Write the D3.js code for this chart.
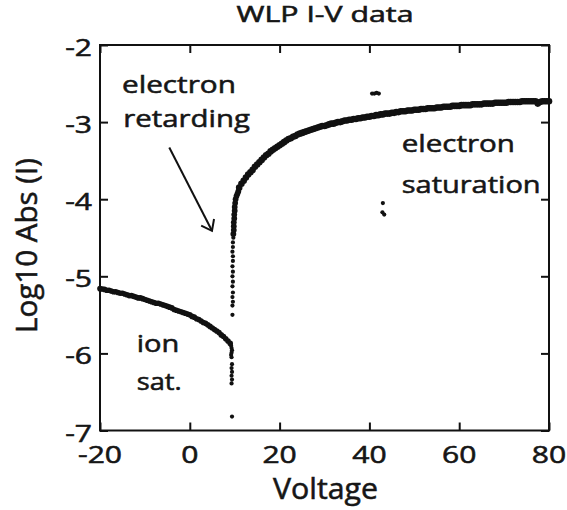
<!DOCTYPE html>
<html><head><meta charset="utf-8">
<script src="https://cdn.jsdelivr.net/npm/d3@7"></script>
<style>
body{margin:0;background:#fff}
svg{display:block}
text{font-family:"Open Sans",sans-serif;fill:#161616;stroke:#161616;stroke-width:0.55px}
</style>
</head><body>
<svg id="chart" width="567" height="510"></svg>
<script>
// ---------------- data ----------------
const title = "WLP I-V data";
const xLabel = "Voltage";
const yLabel = "Log10 Abs (I)";
const xTicks = [-20, 0, 20, 40, 60, 80];
const yTicks = [-2, -3, -4, -5, -6, -7];
const xTickLabels = ["-20", "0", "20", "40", "60", "80"];
const yTickLabels = ["-2", "-3", "-4", "-5", "-6", "-7"];

// ion saturation branch [voltage, log10|I|]
const ionSat = [
  [-20,-5.16],[-19.5,-5.165],[-19,-5.17],[-18.5,-5.18],[-18,-5.18],[-17.5,-5.19],[-17,-5.2],[-16.5,-5.2],[-16,-5.21],[-15.5,-5.22],
  [-15,-5.22],[-14.5,-5.23],[-14,-5.24],[-13.5,-5.25],[-13,-5.25],[-12.5,-5.26],[-12,-5.27],[-11.5,-5.28],[-11,-5.28],[-10.5,-5.29],
  [-10,-5.3],[-9.5,-5.31],[-9,-5.32],[-8.5,-5.33],[-8,-5.34],[-7.5,-5.35],[-7,-5.35],[-6.5,-5.36],[-6,-5.37],[-5.5,-5.38],
  [-5,-5.39],[-4.5,-5.4],[-4,-5.41],[-3.5,-5.43],[-3,-5.44],[-2.5,-5.45],[-2,-5.46],[-1.5,-5.47],[-1,-5.48],[-0.5,-5.49],
  [0,-5.5],[0.5,-5.52],[1,-5.53],[1.5,-5.55],[2,-5.56],[2.5,-5.58],[3,-5.6],[3.5,-5.61],[4,-5.63],[4.5,-5.65],
  [5,-5.67],[5.5,-5.69],[6,-5.71],[6.5,-5.73],[7,-5.76],[7.5,-5.78],[8,-5.81],[8.5,-5.84],[9,-5.87]
];
// scattered points below the ion branch at the floating potential
const lowerSpike = [
  [9.2,-5.9],[9.3,-5.93],[9.4,-5.96],[9.3,-5.99],[9.2,-6.02],[9.3,-6.05],[9.4,-6.14],[9.3,-6.19],
  [9.4,-6.24],[9.3,-6.29],[9.4,-6.34],[9.3,-6.39],[9.4,-6.82]
];
// scattered points in the retarding region
const upperSpike = [
  [9.5,-5.5],[9.5,-5.38],[9.6,-5.33],[9.5,-5.27],[9.6,-5.21],[9.5,-5.13],[9.6,-5.07],[9.5,-5.0],
  [9.6,-4.94],[9.5,-4.87],[9.6,-4.8],[9.6,-4.74],[9.5,-4.68],[9.6,-4.62],[9.6,-4.56],[9.7,-4.5]
];
// knee of the curve
const knee = [
  [9.7,-4.45],[9.8,-4.4],[9.8,-4.35],[9.8,-4.3],[9.9,-4.25],[9.9,-4.2],[10,-4.15],[10,-4.1],
  [10.1,-4.05],[10.2,-4.0],[10.4,-3.96],[10.6,-3.93],[10.8,-3.9]
];
// electron saturation branch
const electronSat = [
  [11,-3.85],[11.5,-3.8],[12,-3.76],[12.5,-3.72],[13,-3.68],[13.5,-3.65],[14,-3.62],[14.5,-3.58],[15,-3.55],[15.5,-3.52],
  [16,-3.49],[16.5,-3.46],[17,-3.43],[17.5,-3.41],[18,-3.38],[18.5,-3.36],[19,-3.34],[19.5,-3.32],[20,-3.3],[20.5,-3.28],
  [21,-3.26],[21.5,-3.24],[22,-3.22],[22.5,-3.21],[23,-3.19],[23.5,-3.18],[24,-3.16],[24.5,-3.15],[25,-3.14],[25.5,-3.13],
  [26,-3.12],[26.5,-3.11],[27,-3.1],[27.5,-3.09],[28,-3.08],[28.5,-3.07],[29,-3.06],[29.5,-3.05],[30,-3.05],[30.5,-3.04],
  [31,-3.03],[31.5,-3.02],[32,-3.02],[32.5,-3.01],[33,-3.0],[33.5,-3.0],[34,-2.99],[34.5,-2.98],[35,-2.98],[35.5,-2.97],
  [36,-2.97],[36.5,-2.96],[37,-2.96],[37.5,-2.95],[38,-2.95],[38.5,-2.94],[39,-2.94],[39.5,-2.93],[40,-2.93],[40.5,-2.92],
  [41,-2.92],[41.5,-2.91],[42,-2.91],[42.5,-2.9],[43,-2.9],[43.5,-2.89],[44,-2.89],[44.5,-2.89],[45,-2.88],[45.5,-2.88],
  [46,-2.87],[46.5,-2.87],[47,-2.86],[47.5,-2.86],[48,-2.86],[48.5,-2.85],[49,-2.85],[49.5,-2.85],[50,-2.84],[50.5,-2.84],
  [51,-2.84],[51.5,-2.83],[52,-2.83],[52.5,-2.83],[53,-2.82],[53.5,-2.82],[54,-2.82],[54.5,-2.82],[55,-2.81],[55.5,-2.81],
  [56,-2.81],[56.5,-2.8],[57,-2.8],[57.5,-2.8],[58,-2.8],[58.5,-2.79],[59,-2.79],[59.5,-2.79],[60,-2.79],[60.5,-2.78],
  [61,-2.78],[61.5,-2.78],[62,-2.78],[62.5,-2.78],[63,-2.77],[63.5,-2.77],[64,-2.77],[64.5,-2.77],[65,-2.77],[65.5,-2.76],
  [66,-2.76],[66.5,-2.76],[67,-2.76],[67.5,-2.76],[68,-2.75],[68.5,-2.75],[69,-2.75],[69.5,-2.75],[70,-2.75],[70.5,-2.75],
  [71,-2.74],[71.5,-2.74],[72,-2.74],[72.5,-2.74],[73,-2.74],[73.5,-2.74],[74,-2.73],[74.5,-2.73],[75,-2.73],[75.5,-2.73],
  [76,-2.73],[76.5,-2.73],[77,-2.73],[77.5,-2.76],[78,-2.74],[78.5,-2.73],[79,-2.73],[79.5,-2.73],[80,-2.73]
];
// stray points
const strayHigh = [[40.6,-2.63],[41.1,-2.63],[41.6,-2.62],[42.1,-2.63]];
const strayLow = [[43.0,-4.05],[42.9,-4.17],[43.3,-4.2]];

const noteRetarding = ["electron", "retarding"];
const noteSaturation = ["electron", "saturation"];
const noteIon = ["ion", "sat."];

// ---------------- drawing ----------------
const svg = d3.select("#chart");
const L = 100, R = 549, T = 45, B = 430.5;
const x = d3.scaleLinear().domain([-20, 80]).range([L, R]);
const y = d3.scaleLinear().domain([-7, -2]).range([B, T]);
const ink = "#111";

function stretchText(str, o) {
  const t = svg.append("text").text(str)
    .attr("font-size", o.size)
    .attr("text-anchor", o.anchor || "start");
  const w = t.node().getComputedTextLength();
  const s = o.width ? o.width / w : (o.sx || 1);
  t.attr("transform", `translate(${o.x},${o.y})${o.rotate ? ` rotate(${o.rotate})` : ""} scale(${s},1)`);
  return s;
}

// axes with inward ticks
const tl = 8;
svg.append("g").attr("transform", `translate(0,${B})`)
  .call(d3.axisBottom(x).tickValues(xTicks).tickSizeInner(-tl).tickSizeOuter(0).tickFormat(""));
svg.append("g").attr("transform", `translate(0,${T})`)
  .call(d3.axisTop(x).tickValues(xTicks).tickSizeInner(-tl).tickSizeOuter(0).tickFormat(""));
svg.append("g").attr("transform", `translate(${L},0)`)
  .call(d3.axisLeft(y).tickValues(yTicks).tickSizeInner(-tl).tickSizeOuter(0).tickFormat(""));
svg.append("g").attr("transform", `translate(${R},0)`)
  .call(d3.axisRight(y).tickValues(yTicks).tickSizeInner(-tl).tickSizeOuter(0).tickFormat(""));
svg.selectAll(".domain").remove();
svg.selectAll(".tick line").attr("stroke", ink).attr("stroke-width", 2);
svg.append("rect").attr("x", L).attr("y", T).attr("width", R - L).attr("height", B - T)
  .attr("fill", "none").attr("stroke", ink).attr("stroke-width", 2);

// data points
function dots(data, r) {
  svg.append("g").selectAll("circle").data(data).join("circle")
    .attr("cx", d => x(d[0])).attr("cy", d => y(d[1])).attr("r", r).attr("fill", ink);
}
dots(ionSat, 2.8);
dots(lowerSpike, 2.1);
dots(upperSpike, 2.1);
dots(knee, 2.9);
dots(electronSat, 3.3);
dots(strayHigh, 2.1);
dots(strayLow, 2.1);

// tick labels
const tickSize = 23;
const probe = svg.append("text").text("-20").attr("font-size", tickSize);
const tickSx = 44 / probe.node().getComputedTextLength();
probe.remove();
xTicks.forEach((v, i) => stretchText(xTickLabels[i], {x: x(v), y: 463.3, size: tickSize, anchor: "middle", sx: tickSx}));
yTicks.forEach((v, i) => stretchText(yTickLabels[i], {x: 92, y: y(v) + 11, size: tickSize, anchor: "end", sx: tickSx}));

// titles
stretchText(title, {x: 325, y: 22, size: 21.5, anchor: "middle", width: 177});
stretchText(xLabel, {x: 325.5, y: 499, size: 29, anchor: "middle", width: 105});
stretchText(yLabel, {x: 37, y: 245.5, size: 29, anchor: "middle", width: 175, rotate: -90});

// annotations
stretchText(noteRetarding[0], {x: 122, y: 93, size: 24.5, width: 114});
stretchText(noteRetarding[1], {x: 123.3, y: 126.7, size: 24.5, width: 126.7});
stretchText(noteSaturation[0], {x: 401.7, y: 151.7, size: 24.5, width: 113.3});
stretchText(noteSaturation[1], {x: 401.7, y: 193.3, size: 24.5, width: 139});
stretchText(noteIon[0], {x: 136.7, y: 351.7, size: 24.5, width: 42.6});
stretchText(noteIon[1], {x: 136.7, y: 390, size: 24.5, width: 45});

// arrow
const a0 = [x(-4.57), y(-3.33)], a1 = [x(4.94), y(-4.41)];
svg.append("line").attr("x1", a0[0]).attr("y1", a0[1]).attr("x2", a1[0]).attr("y2", a1[1])
  .attr("stroke", ink).attr("stroke-width", 2);
const ang = Math.atan2(a0[1] - a1[1], a0[0] - a1[0]);
const hl = 12, ha = 37 * Math.PI / 180;
const w1 = [a1[0] + hl * Math.cos(ang + ha), a1[1] + hl * Math.sin(ang + ha)];
const w2 = [a1[0] + hl * Math.cos(ang - ha), a1[1] + hl * Math.sin(ang - ha)];
svg.append("path").attr("d", `M${w1}L${a1}L${w2}`)
  .attr("fill", "none").attr("stroke", ink).attr("stroke-width", 2).attr("stroke-linejoin", "miter");
</script>
</body></html>
